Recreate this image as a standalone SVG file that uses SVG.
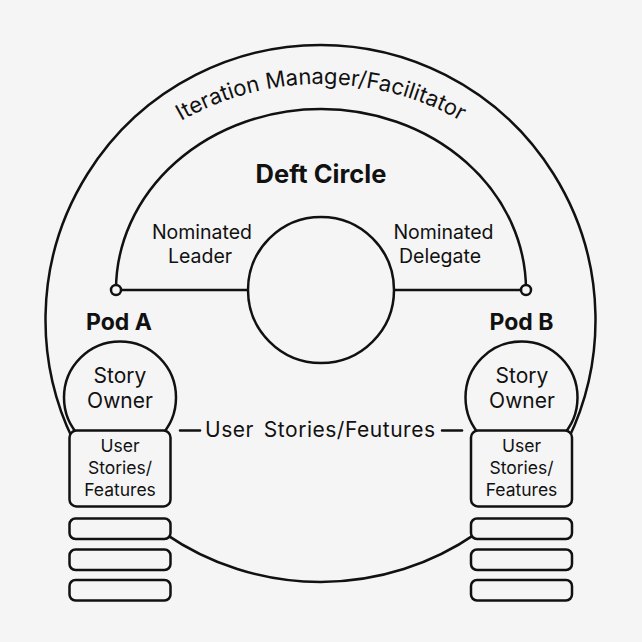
<svg xmlns="http://www.w3.org/2000/svg" width="642" height="642" viewBox="0 0 642 642">
  <defs>
    <style>
      .ln{fill:none;stroke:#111;stroke-width:2.5;stroke-linecap:round}
      .sh{fill:#f5f5f5;stroke:#111;stroke-width:2.5}
      .t{font-family:Inter,"Liberation Sans",sans-serif;fill:#111;text-anchor:middle}
      .b{font-weight:700}
    </style>
    <path id="titleArc" d="M 38 367 A 283 283 0 0 1 604 367"/>
  </defs>
  <rect width="642" height="642" fill="#f5f5f5"/>

  <g id="outer-ring">
    <path class="ln" d="M 73.1 440 A 275 275 0 1 1 567.9 440"/>
    <path class="ln" d="M 165 533.6 A 274 274 0 0 0 476 533.6"/>
    <text class="t" font-size="22"><textPath href="#titleArc" startOffset="50%">Iteration Manager/Facilitator</textPath></text>
  </g>

  <g id="deft-circle">
    <path class="ln" d="M 116 290 A 205 181 0 0 1 526 290"/>
    <text class="t b" x="321" y="183" font-size="25.5">Deft Circle</text>
  </g>

  <g id="connectors">
    <line class="ln" x1="180" y1="430.5" x2="200" y2="430.5"/>
    <line class="ln" x1="442" y1="430.5" x2="462" y2="430.5"/>
    <line class="ln" x1="121" y1="290" x2="248" y2="290"/>
    <line class="ln" x1="394" y1="290" x2="521" y2="290"/>
    <text class="t" x="320" y="437" font-size="21" word-spacing="3.5" textLength="230" lengthAdjust="spacing">User Stories/Feutures</text>
  </g>

  <g id="center-circle">
    <circle class="sh" cx="321" cy="290" r="73"/>
  </g>

  <g id="nominated-leader">
    <circle class="sh" cx="116" cy="290" r="5"/>
    <text class="t" x="202" y="239" font-size="19.5">Nominated</text>
    <text class="t" x="200" y="263" font-size="19.5">Leader</text>
  </g>

  <g id="nominated-delegate">
    <circle class="sh" cx="526" cy="290" r="5"/>
    <text class="t" x="443.5" y="239" font-size="19.5">Nominated</text>
    <text class="t" x="440" y="263" font-size="19.5">Delegate</text>
  </g>

  <g id="pod-a">
    <text class="t b" x="119" y="330" font-size="23">Pod A</text>
    <circle class="sh" cx="120" cy="397.5" r="56"/>
    <text class="t" x="120" y="383" font-size="21">Story</text>
    <text class="t" x="120" y="408" font-size="21">Owner</text>
    <rect class="sh" x="69.5" y="430.5" width="101" height="76" rx="7"/>
    <text class="t" x="120" y="452" font-size="17.5">User</text>
    <text class="t" x="120" y="474" font-size="17.5">Stories/</text>
    <text class="t" x="120" y="495.5" font-size="17.5">Features</text>
    <rect class="sh" x="69.5" y="518.5" width="101" height="20.5" rx="6"/>
    <rect class="sh" x="69.5" y="549.5" width="101" height="20.5" rx="6"/>
    <rect class="sh" x="69.5" y="580" width="101" height="20.5" rx="6"/>
  </g>

  <g id="pod-b">
    <text class="t b" x="521.5" y="330" font-size="23">Pod B</text>
    <circle class="sh" cx="521.5" cy="397.5" r="56"/>
    <text class="t" x="522" y="383" font-size="21">Story</text>
    <text class="t" x="522" y="408" font-size="21">Owner</text>
    <rect class="sh" x="471" y="430.5" width="101" height="76" rx="7"/>
    <text class="t" x="521.5" y="452" font-size="17.5">User</text>
    <text class="t" x="521.5" y="474" font-size="17.5">Stories/</text>
    <text class="t" x="521.5" y="495.5" font-size="17.5">Features</text>
    <rect class="sh" x="471" y="518.5" width="101" height="20.5" rx="6"/>
    <rect class="sh" x="471" y="549.5" width="101" height="20.5" rx="6"/>
    <rect class="sh" x="471" y="580" width="101" height="20.5" rx="6"/>
  </g>
</svg>
